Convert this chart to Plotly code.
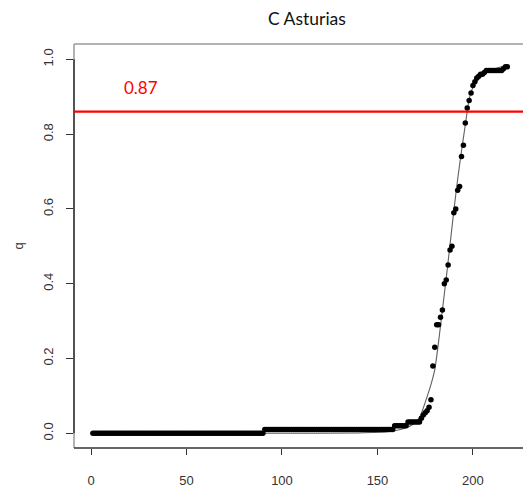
import plotly.graph_objects as go

# ---- data ----
flat_levels = [0.0, 0.01, 0.02, 0.03]
flat_counts = [90, 68, 7, 7]          # x = 1..172
rise_q = [0.04, 0.049, 0.055, 0.06, 0.07, 0.09, 0.18, 0.23, 0.29, 0.29,
          0.31, 0.33, 0.40, 0.41, 0.45, 0.49, 0.50, 0.59, 0.60, 0.65,
          0.66, 0.74, 0.77, 0.83, 0.87, 0.89, 0.91, 0.93, 0.94, 0.95,
          0.955, 0.96, 0.96, 0.965, 0.97, 0.97, 0.97, 0.97, 0.97, 0.97,
          0.97, 0.97, 0.97, 0.975, 0.98, 0.98]   # x = 173..218

q = []
for lvl, n in zip(flat_levels, flat_counts):
    q += [lvl] * n
q += rise_q
x = list(range(1, len(q) + 1))

fit_x = [1, 100, 140, 155, 162, 168, 172, 174, 176, 178, 180, 182, 184, 186,
         188, 190, 192, 194, 196, 198, 200, 203, 206, 210, 214, 218]
fit_q = [0.0, 0.0, 0.001, 0.004, 0.010, 0.022, 0.042, 0.068, 0.098, 0.13,
         0.17, 0.245, 0.33, 0.415, 0.505, 0.595, 0.68, 0.755, 0.825, 0.893,
         0.925, 0.947, 0.96, 0.972, 0.979, 0.985]

threshold = 0.86
threshold_label = "0.87"
title = "C Asturias"
x_ticks = [0, 50, 100, 150, 200]
y_ticks = [0.0, 0.2, 0.4, 0.6, 0.8, 1.0]
y_tick_text = ["0.0", "0.2", "0.4", "0.6", "0.8", "1.0"]

XR = [-8.9, 226.2]
YR = [-0.0393, 1.041]

fig = go.Figure()
fig.add_trace(go.Scatter(x=fit_x, y=fit_q, mode="lines",
                         line=dict(color="#606060", width=1.1, shape="spline", smoothing=0.6),
                         hoverinfo="skip", showlegend=False))
fig.add_trace(go.Scatter(x=x, y=q, mode="markers",
                         marker=dict(color="black", size=5.5, line=dict(width=0)),
                         showlegend=False))

# box (gray) and axis lines (dark, between first and last tick)
box_col = "#9a9a9a"
fig.add_shape(type="line", xref="paper", yref="paper", x0=0, x1=1, y0=1, y1=1,
              line=dict(color=box_col, width=1.5))
fig.add_shape(type="line", xref="paper", yref="paper", x0=0, x1=0, y0=0, y1=1,
              line=dict(color=box_col, width=1.5))
fig.add_shape(type="line", xref="paper", yref="paper", x0=0, x1=1, y0=0, y1=0,
              line=dict(color="#333333", width=1.5))
fig.add_shape(type="line", xref="paper", yref="y", x0=0, x1=0, y0=y_ticks[0], y1=y_ticks[-1],
              line=dict(color="#333333", width=1.5))

# threshold line
fig.add_shape(type="line", xref="paper", yref="y", x0=0, x1=1, y0=threshold, y1=threshold,
              line=dict(color="#ff0000", width=2.2), layer="above")
fig.add_annotation(x=26, y=0.926, xref="x", yref="y", text=threshold_label,
                   showarrow=False, font=dict(family="Lato", size=17, color="#ff0000"))

fig.add_annotation(x=0.52, y=1.0, xref="paper", yref="paper", yshift=38,
                   text=title, showarrow=False,
                   font=dict(family="Lato", size=17.5, color="#111111"))

fig.update_layout(
    width=523, height=492,
    margin=dict(l=74, r=0, t=44, b=44),
    plot_bgcolor="white", paper_bgcolor="white",
    font=dict(family="Liberation Sans", size=13, color="#333333"),
    xaxis=dict(range=XR, tickvals=x_ticks, showgrid=False, zeroline=False,
               showline=False, ticks="outside", ticklen=6, tickcolor="#333333",
               tickwidth=1.2, ticklabelstandoff=14, tickfont=dict(size=13)),
    yaxis=dict(range=YR, tickvals=y_ticks, ticktext=y_tick_text, showgrid=False,
               zeroline=False, showline=False, ticks="outside", ticklen=7,
               tickcolor="#333333", tickwidth=1.2, tickangle=-90,
               ticklabelstandoff=8, tickfont=dict(size=13),
               title=dict(text="q", standoff=14, font=dict(size=13))),
)

fig.write_html("out.html")
